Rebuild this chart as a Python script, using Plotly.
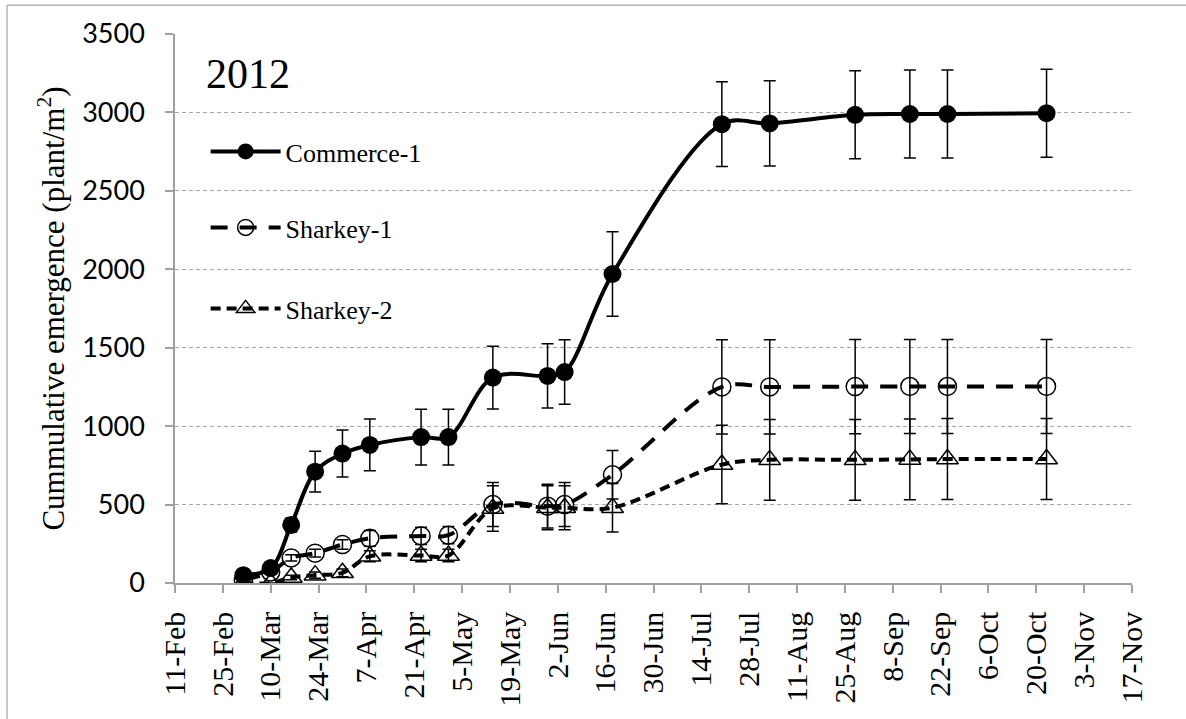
import plotly.graph_objects as go

# Sampling dates (2012) and cumulative emergence (plant/m2) with standard errors
dates = ["2012-03-02", "2012-03-10", "2012-03-16", "2012-03-23", "2012-03-31", "2012-04-08",
         "2012-04-23", "2012-05-01", "2012-05-14", "2012-05-30", "2012-06-04", "2012-06-18",
         "2012-07-20", "2012-08-03", "2012-08-28", "2012-09-13", "2012-09-24", "2012-10-23"]

commerce_1 = [50, 95, 370, 710, 825, 880, 930, 930, 1310, 1320, 1345, 1970,
              2925, 2930, 2985, 2990, 2990, 2995]
commerce_1_se = [20, 25, 45, 130, 150, 165, 178, 178, 200, 205, 206, 270,
                 270, 272, 280, 280, 280, 280]

sharkey_1 = [20, 70, 160, 190, 245, 285, 300, 305, 500, 490, 500, 690,
             1250, 1250, 1252, 1253, 1253, 1253]
sharkey_1_se = [5, 10, 20, 25, 30, 50, 55, 55, 140, 140, 140, 155,
                300, 300, 300, 300, 300, 300]

sharkey_2 = [0, 0, 35, 50, 65, 170, 175, 175, 475, 480, 480, 480,
             755, 785, 785, 788, 790, 790]
sharkey_2_se = [0, 0, 15, 20, 25, 35, 40, 40, 145, 140, 140, 155,
                250, 258, 258, 258, 258, 258]

# small uncertainty in sampling date (days) for the Sharkey plots
date_se_days = 1
DAY_MS = 86400000

year_label = "2012"
y_title = "Cummulative emergence (plant/m<sup>2</sup>)"

SERIF = "Times New Roman, Liberation Serif, Tinos, DejaVu Serif, serif"
SANS = "Lato, Carlito, Calibri, Open Sans, sans-serif"
GRID = "#a6a6a6"
AXIS = "#a0a0a0"

fig = go.Figure()

fig.add_trace(go.Scatter(
    x=dates, y=commerce_1, name="Commerce-1", mode="lines+markers",
    line=dict(color="black", width=4, shape="spline", smoothing=1),
    marker=dict(symbol="circle", size=18, color="black"),
    error_y=dict(type="data", array=commerce_1_se, color="black", thickness=1.5, width=6),
    legend="legend",
))

fig.add_trace(go.Scatter(
    x=dates, y=sharkey_1, name="Sharkey-1", mode="lines+markers",
    line=dict(color="black", width=4, shape="spline", smoothing=1, dash="17px,12px"),
    marker=dict(symbol="circle-open", size=18, color="black", line=dict(width=1.5)),
    error_y=dict(type="data", array=sharkey_1_se, color="black", thickness=1.5, width=6),
    error_x=dict(type="constant", value=date_se_days * DAY_MS, color="black",
                 thickness=1.2, width=5),
    legend="legend2",
))

fig.add_trace(go.Scatter(
    x=dates, y=sharkey_2, name="Sharkey-2", mode="lines+markers",
    line=dict(color="black", width=4, shape="spline", smoothing=1, dash="10px,6px"),
    marker=dict(symbol="triangle-up-open", size=19, color="black", line=dict(width=1.5)),
    error_y=dict(type="data", array=sharkey_2_se, color="black", thickness=1.5, width=6),
    error_x=dict(type="constant", value=date_se_days * DAY_MS, color="black",
                 thickness=1.2, width=5),
    legend="legend3",
))

legend_common = dict(
    xanchor="left", yanchor="middle",
    font=dict(family=SERIF, size=26, color="black"),
    bgcolor="rgba(0,0,0,0)", itemwidth=70, borderwidth=0,
)

fig.update_layout(
    width=1186, height=719,
    margin=dict(l=175, r=54, t=34, b=129),
    paper_bgcolor="white", plot_bgcolor="white",
    font=dict(family=SERIF, color="black"),
    showlegend=True,
    legend=dict(x=0.032, y=0.786, **legend_common),
    legend2=dict(x=0.032, y=0.6475, **legend_common),
    legend3=dict(x=0.032, y=0.50, **legend_common),
    xaxis=dict(
        type="date",
        range=["2012-02-11", "2012-11-17"],
        tick0="2012-02-11", dtick=14 * DAY_MS,
        tickformat="%-d-%b", tickangle=-90,
        tickfont=dict(family=SERIF, size=30, color="black"),
        showgrid=False, zeroline=False,
        showline=True, linecolor=AXIS, linewidth=1.5,
        ticks="outside", ticklen=8, tickcolor=AXIS, tickwidth=1.5,
        ticklabelstandoff=7,
    ),
    yaxis=dict(
        range=[0, 3500], dtick=500, tick0=0,
        tickfont=dict(family=SANS, size=27, color="black"),
        showgrid=True, gridcolor=GRID, gridwidth=1, griddash="4px,3px",
        zeroline=False,
        showline=True, linecolor=AXIS, linewidth=1.5,
        ticks="outside", ticklen=8, tickcolor=AXIS, tickwidth=1.5,
        ticklabelstandoff=15,
        title=dict(text=y_title, font=dict(family=SERIF, size=31, color="black"), standoff=8),
    ),
    annotations=[dict(
        text=year_label, x=0.0763, y=0.927, xref="paper", yref="paper",
        xanchor="center", yanchor="middle", showarrow=False,
        font=dict(family=SERIF, size=42, color="black"),
    )],
    shapes=[
        dict(type="line", xref="paper", yref="paper", x0=-0.1755, x1=1.07,
             y0=1.0522, y1=1.0522, line=dict(color="#b4b4b4", width=1.5)),
        dict(type="line", xref="paper", yref="paper", x0=-0.1755, x1=-0.1755,
             y0=1.0522, y1=-0.26, line=dict(color="#b4b4b4", width=1.5)),
    ],
)

fig.write_html("out.html")
